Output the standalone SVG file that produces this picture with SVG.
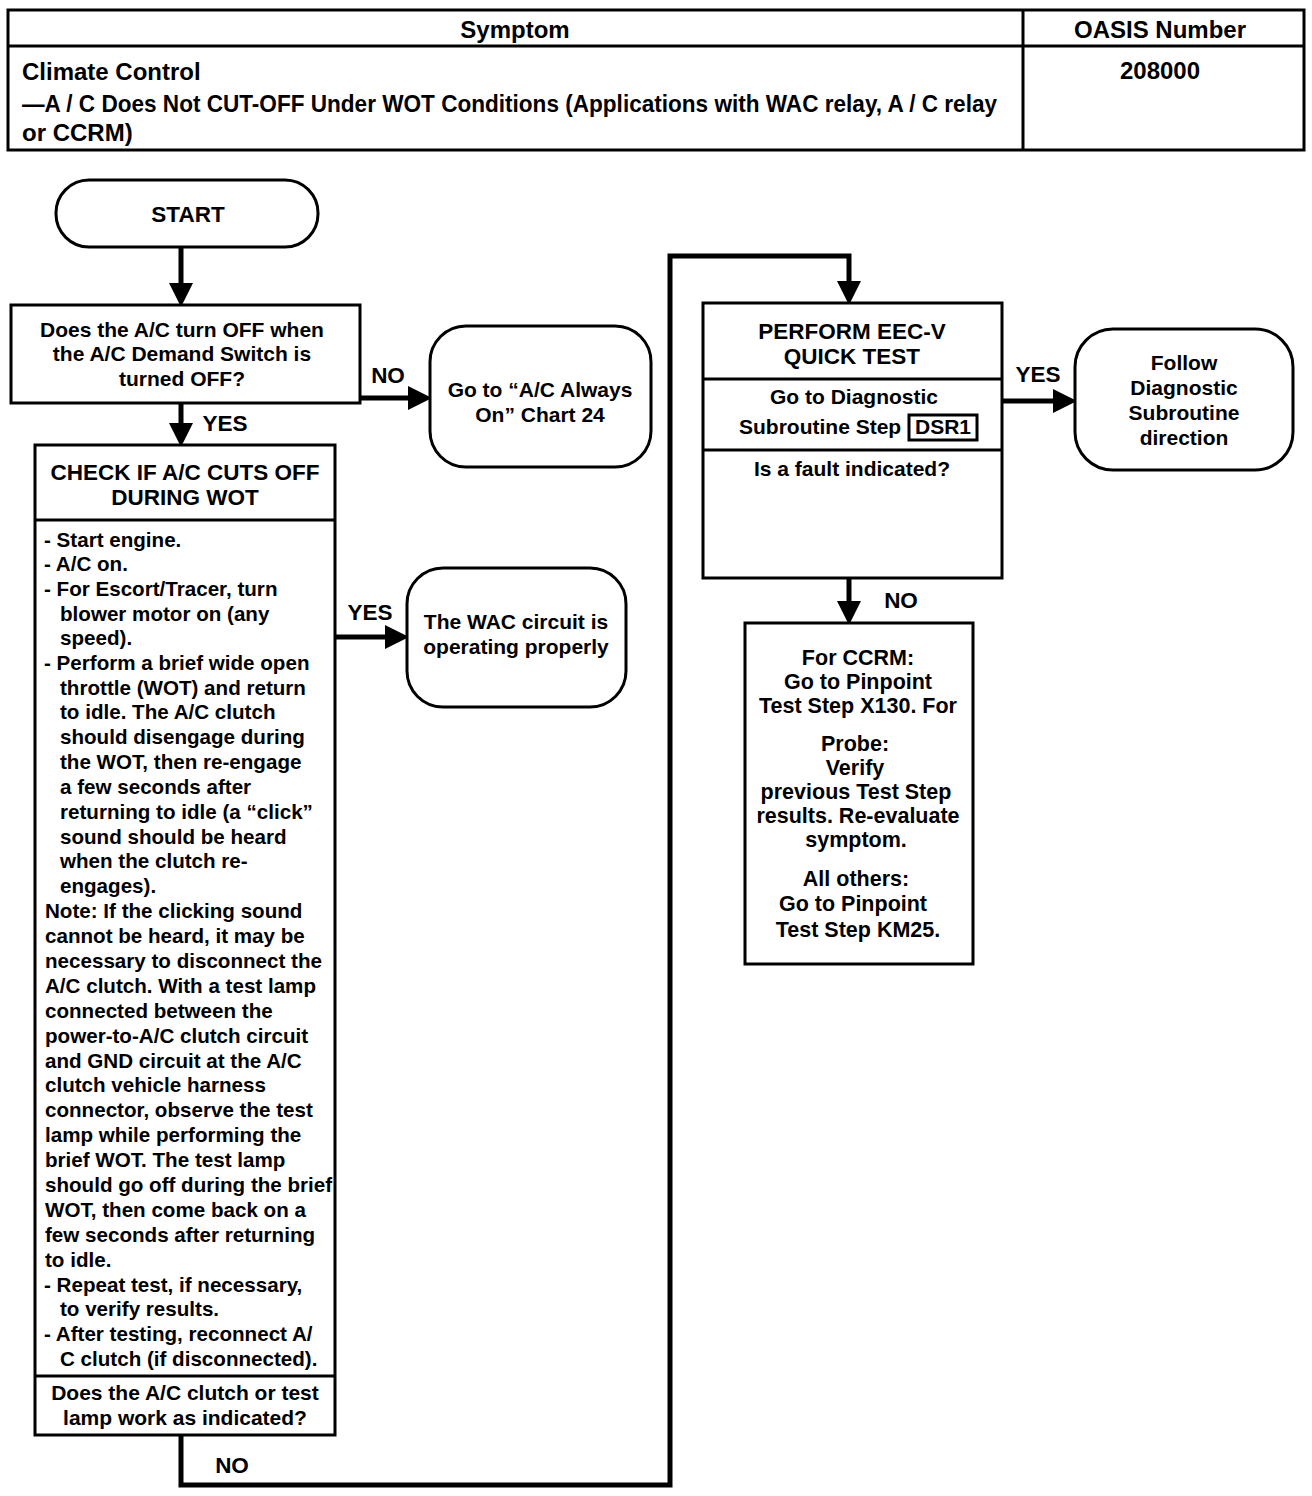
<svg xmlns="http://www.w3.org/2000/svg" width="1312" height="1496" viewBox="0 0 1312 1496">
<style>
text{font-family:"Liberation Sans",Arial,sans-serif;font-weight:bold;font-size:21px;fill:#000}
.c{text-anchor:middle}
.h{font-size:24px}
.cap{font-size:22.5px}
.lbl{font-size:22.5px}
.body{font-size:20.6px}
.cc{font-size:21.5px}
.box{fill:#fff;stroke:#000;stroke-width:3}
.sep{stroke:#000;stroke-width:3}
.conn{fill:none;stroke:#000;stroke-width:5}
</style>
<defs>
<marker id="ah" markerUnits="userSpaceOnUse" markerWidth="24" markerHeight="24" viewBox="0 0 24 24" refX="0" refY="12" orient="auto">
<path d="M0,0 L24,12 L0,24 z" fill="#000"/>
</marker>
</defs>
<rect width="1312" height="1496" fill="#fff"/>

<g id="header">
<rect x="8" y="10" width="1296" height="140" class="box"/>
<line x1="8" y1="46" x2="1304" y2="46" class="sep"/>
<line x1="1023" y1="10" x2="1023" y2="150" class="sep"/>
<text x="515" y="38" class="c h">Symptom</text>
<text x="1160" y="38" class="c h">OASIS Number</text>
<text x="22" y="80" class="h">Climate Control</text>
<text x="22" y="112" class="h" textLength="975" lengthAdjust="spacingAndGlyphs">—A / C Does Not CUT-OFF Under WOT Conditions (Applications with WAC relay, A / C relay</text>
<text x="22" y="141" class="h">or CCRM)</text>
<text x="1160" y="79" class="c h">208000</text>
</g>

<g id="connectors">
<path d="M181,247 V283" class="conn" marker-end="url(#ah)"/>
<path d="M360,398 H408" class="conn" marker-end="url(#ah)"/>
<path d="M181,403 V423" class="conn" marker-end="url(#ah)"/>
<path d="M335,637 H385" class="conn" marker-end="url(#ah)"/>
<path d="M181,1435 V1485 H670 V256 H849 V281" class="conn" marker-end="url(#ah)"/>
<path d="M1002,401 H1053" class="conn" marker-end="url(#ah)"/>
<path d="M849,578 V601" class="conn" marker-end="url(#ah)"/>
<text x="388" y="383" class="c lbl">NO</text>
<text x="225" y="431" class="c lbl">YES</text>
<text x="370" y="620" class="c lbl">YES</text>
<text x="232" y="1473" class="c lbl">NO</text>
<text x="1038" y="382" class="c lbl">YES</text>
<text x="901" y="608" class="c lbl">NO</text>
</g>

<g id="start">
<rect x="56" y="180" width="262" height="67" rx="33" class="box"/>
<text x="188" y="222" class="c cap">START</text>
</g>

<g id="q1">
<rect x="11" y="305" width="349" height="98" class="box"/>
<text x="182" y="337" class="c">Does the A/C turn OFF when</text>
<text x="182" y="361" class="c">the A/C Demand Switch is</text>
<text x="182" y="386" class="c">turned OFF?</text>
</g>

<g id="always-on">
<rect x="430" y="326" width="221" height="141" rx="36" class="box"/>
<text x="540" y="397" class="c">Go to “A/C Always</text>
<text x="540" y="422" class="c">On” Chart 24</text>
</g>

<g id="check">
<rect x="35" y="445" width="300" height="990" class="box"/>
<line x1="35" y1="520" x2="335" y2="520" class="sep"/>
<line x1="35" y1="1376" x2="335" y2="1376" class="sep"/>
<text x="185" y="480" class="c cap">CHECK IF A/C CUTS OFF</text>
<text x="185" y="505" class="c cap">DURING WOT</text>
<text x="44" y="547" class="body">- Start engine.</text>
<text x="44" y="571" class="body">- A/C on.</text>
<text x="44" y="596" class="body">- For Escort/Tracer, turn</text>
<text x="60" y="621" class="body">blower motor on (any</text>
<text x="60" y="645" class="body">speed).</text>
<text x="44" y="670" class="body">- Perform a brief wide open</text>
<text x="60" y="695" class="body">throttle (WOT) and return</text>
<text x="60" y="719" class="body">to idle. The A/C clutch</text>
<text x="60" y="744" class="body">should disengage during</text>
<text x="60" y="769" class="body">the WOT, then re-engage</text>
<text x="60" y="794" class="body">a few seconds after</text>
<text x="60" y="819" class="body">returning to idle (a “click”</text>
<text x="60" y="844" class="body">sound should be heard</text>
<text x="60" y="868" class="body">when the clutch re-</text>
<text x="60" y="893" class="body">engages).</text>
<text x="45" y="918" class="body">Note: If the clicking sound</text>
<text x="45" y="943" class="body">cannot be heard, it may be</text>
<text x="45" y="968" class="body">necessary to disconnect the</text>
<text x="45" y="993" class="body">A/C clutch. With a test lamp</text>
<text x="45" y="1018" class="body">connected between the</text>
<text x="45" y="1043" class="body">power-to-A/C clutch circuit</text>
<text x="45" y="1068" class="body">and GND circuit at the A/C</text>
<text x="45" y="1092" class="body">clutch vehicle harness</text>
<text x="45" y="1117" class="body">connector, observe the test</text>
<text x="45" y="1142" class="body">lamp while performing the</text>
<text x="45" y="1167" class="body">brief WOT. The test lamp</text>
<text x="45" y="1192" class="body">should go off during the brief</text>
<text x="45" y="1217" class="body">WOT, then come back on a</text>
<text x="45" y="1242" class="body">few seconds after returning</text>
<text x="45" y="1267" class="body">to idle.</text>
<text x="44" y="1292" class="body">- Repeat test, if necessary,</text>
<text x="60" y="1316" class="body">to verify results.</text>
<text x="44" y="1341" class="body">- After testing, reconnect A/</text>
<text x="60" y="1366" class="body">C clutch (if disconnected).</text>
<text x="185" y="1400" class="c">Does the A/C clutch or test</text>
<text x="185" y="1425" class="c">lamp work as indicated?</text>
</g>

<g id="wac-ok">
<rect x="407" y="568" width="219" height="139" rx="36" class="box"/>
<text x="516" y="629" class="c">The WAC circuit is</text>
<text x="516" y="654" class="c">operating properly</text>
</g>

<g id="eec">
<rect x="703" y="303" width="299" height="275" class="box"/>
<line x1="703" y1="379" x2="1002" y2="379" class="sep"/>
<line x1="703" y1="450" x2="1002" y2="450" class="sep"/>
<text x="852" y="339" class="c cap">PERFORM EEC-V</text>
<text x="852" y="364" class="c cap">QUICK TEST</text>
<text x="854" y="404" class="c">Go to Diagnostic</text>
<text x="739" y="434">Subroutine Step</text>
<rect x="909" y="415" width="68" height="25" fill="none" stroke="#000" stroke-width="3"/>
<text x="943" y="434" class="c">DSR1</text>
<text x="852" y="476" class="c">Is a fault indicated?</text>
</g>

<g id="follow">
<rect x="1075" y="329" width="218" height="141" rx="38" class="box"/>
<text x="1184" y="370" class="c">Follow</text>
<text x="1184" y="395" class="c">Diagnostic</text>
<text x="1184" y="420" class="c">Subroutine</text>
<text x="1184" y="445" class="c">direction</text>
</g>

<g id="ccrm">
<rect x="745" y="623" width="228" height="341" class="box"/>
<text x="858" y="665" class="c cc">For CCRM:</text>
<text x="858" y="689" class="c cc">Go to Pinpoint</text>
<text x="858" y="713" class="c cc">Test Step X130. For</text>
<text x="855" y="751" class="c cc">Probe:</text>
<text x="855" y="775" class="c cc">Verify</text>
<text x="856" y="799" class="c cc">previous Test Step</text>
<text x="858" y="823" class="c cc">results. Re-evaluate</text>
<text x="856" y="847" class="c cc">symptom.</text>
<text x="856" y="886" class="c cc">All others:</text>
<text x="853" y="911" class="c cc">Go to Pinpoint</text>
<text x="858" y="937" class="c cc">Test Step KM25.</text>
</g>
</svg>
